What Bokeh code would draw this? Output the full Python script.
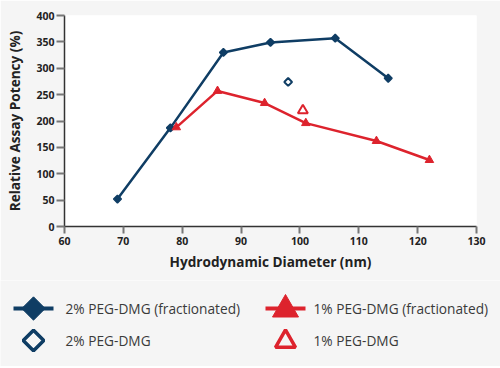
import math
from bokeh.plotting import figure
from bokeh.models import Range1d, FixedTicker, ColumnDataSource
from bokeh.embed import file_html
from bokeh.resources import INLINE
from bokeh.core.properties import value

# ---------------- data ----------------
frac2_x = [69, 78, 87, 95, 106, 115]
frac2_y = [52, 187, 330, 349, 357, 281]
peg2_x = [98]
peg2_y = [274]
frac1_x = [79, 86, 94, 101, 113, 122]
frac1_y = [188, 257, 234, 196, 162, 126]
peg1_x = [100.5]
peg1_y = [220]

x_ticks = [60, 70, 80, 90, 100, 110, 120, 130]
y_ticks = [0, 50, 100, 150, 200, 250, 300, 350, 400]
x_label = "Hydrodynamic Diameter (nm)"
y_label = "Relative Assay Potency (%)"
legend_labels = ["2% PEG-DMG (fractionated)", "1% PEG-DMG (fractionated)",
                 "2% PEG-DMG", "1% PEG-DMG"]

# ---------------- style ----------------
BLUE = "#0f3d64"
RED = "#dd232d"
BG = "#f5f5f5"
TXT = "#222222"
FONT = "Open Sans"

# ---------------- main chart ----------------
p = figure(width=500, height=280, x_range=Range1d(60, 130), y_range=Range1d(0, 400),
           output_backend="svg", toolbar_location=None,
           min_border_left=64, min_border_right=24, min_border_top=15, min_border_bottom=54)
p.background_fill_color = "white"
p.border_fill_color = BG
p.outline_line_color = None
p.xgrid.visible = False
p.ygrid.visible = False

for ax in (p.xaxis[0], p.yaxis[0]):
    ax.axis_line_color = "#333333"
    ax.axis_line_width = 1.5
    ax.major_tick_line_color = "#777777"
    ax.major_tick_line_width = 2
    ax.minor_tick_line_color = None
    ax.major_tick_in = 0
    ax.major_label_text_font = FONT
    ax.major_label_text_font_style = "bold"
    ax.major_label_text_font_size = "10.5px"
    ax.major_label_text_color = TXT
    ax.axis_label_text_font = FONT
    ax.axis_label_text_font_style = "bold"
    ax.axis_label_text_font_size = "13.6px"
    ax.axis_label_text_color = TXT

p.xaxis[0].ticker = FixedTicker(ticks=x_ticks)
p.yaxis[0].ticker = FixedTicker(ticks=y_ticks)
p.xaxis[0].major_tick_out = 7
p.yaxis[0].major_tick_out = 8
p.xaxis[0].major_label_standoff = 3
p.yaxis[0].major_label_standoff = 2
p.xaxis[0].axis_label = x_label
p.yaxis[0].axis_label = y_label
p.xaxis[0].axis_label_standoff = 4
p.yaxis[0].axis_label_standoff = 9

D = math.pi / 4
p.line(frac2_x, frac2_y, line_color=BLUE, line_width=2.5)
p.scatter(frac2_x, frac2_y, marker="square", angle=D, size=5.5,
          fill_color=BLUE, line_color=BLUE, line_width=1.5)
p.scatter(peg2_x, peg2_y, marker="square", angle=D, size=5.5,
          fill_color="white", line_color=BLUE, line_width=2)
p.line(frac1_x, frac1_y, line_color=RED, line_width=2.5)
p.scatter(frac1_x, frac1_y, marker="triangle", size=8.5,
          fill_color=RED, line_color=RED, line_width=1)
p.scatter(peg1_x, peg1_y, marker="triangle", size=10,
          fill_color="white", line_color=RED, line_width=2)

# ---------------- legend (second root, pixel coordinates) ----------------
LW, LH = 500, 86
col_glyph_x = [33, 285]
col_text_x = [65, 313]
row_y = [28, 60]
half_line = 20

lg = figure(width=LW, height=LH, x_range=Range1d(0, LW), y_range=Range1d(LH, 0),
            output_backend="svg", toolbar_location=None,
            min_border=0, x_axis_location=None, y_axis_location=None)
lg.background_fill_color = BG
lg.border_fill_color = BG
lg.outline_line_color = None
lg.xgrid.visible = False
lg.ygrid.visible = False

pos = [(col_glyph_x[i % 2], row_y[i // 2]) for i in range(len(legend_labels))]

lg.segment(x0=[pos[0][0] - half_line, pos[1][0] - half_line],
           x1=[pos[0][0] + half_line, pos[1][0] + half_line],
           y0=[pos[0][1], pos[1][1]], y1=[pos[0][1], pos[1][1]],
           line_color=[BLUE, RED], line_width=4)
lg.scatter([pos[0][0]], [pos[0][1]], marker="square", angle=D, size=16.5,
           fill_color=BLUE, line_color=BLUE, line_width=1)
lg.scatter([pos[2][0]], [pos[2][1]], marker="square", angle=D, size=14.5,
           fill_color=BG, line_color=BLUE, line_width=3.5)
lg.scatter([pos[1][0]], [pos[1][1] + 1], marker="triangle", size=26,
           fill_color=RED, line_color=RED, line_width=1)
lg.scatter([pos[3][0]], [pos[3][1] + 1], marker="triangle", size=20,
           fill_color=BG, line_color=RED, line_width=3.5)

tsrc = ColumnDataSource(dict(
    x=[col_text_x[i % 2] for i in range(len(legend_labels))],
    y=[row_y[i // 2] for i in range(len(legend_labels))],
    t=legend_labels))
lg.text(x="x", y="y", text="t", source=tsrc, text_font=value(FONT),
        text_font_size="13.7px", text_color="#3a3a3a", text_baseline="middle",
        text_align="left")

html = file_html([p, lg], INLINE)
html = html.replace("<body>", '<body style="background-color: %s;">' % BG, 1)
open("out.html", "w").write(html)
